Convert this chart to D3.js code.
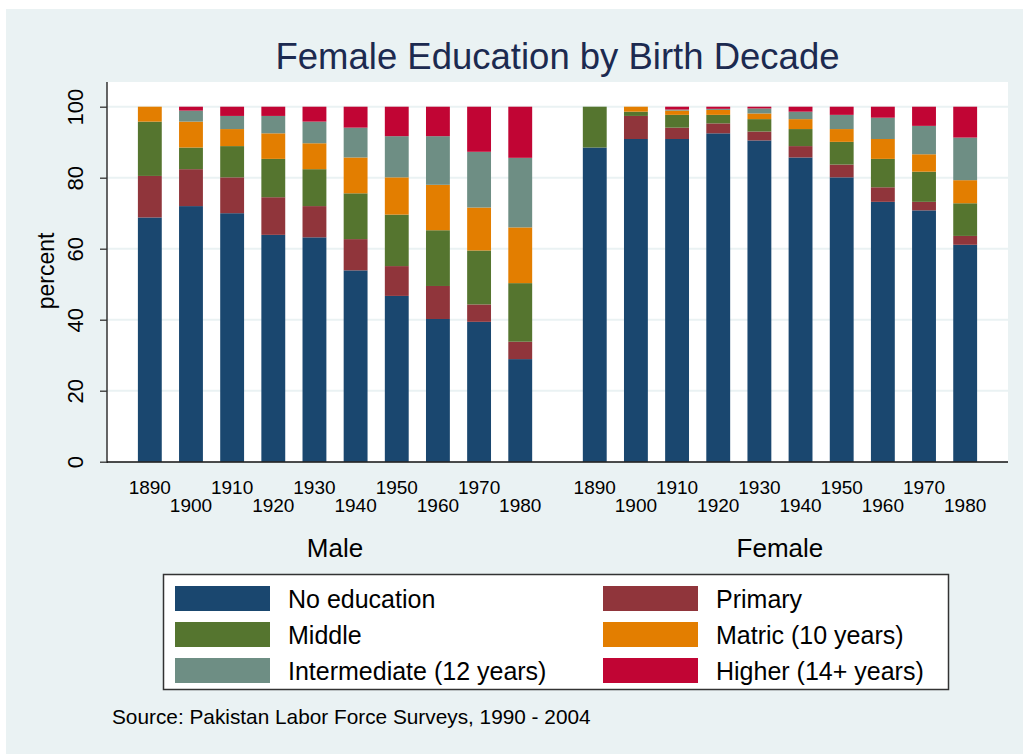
<!DOCTYPE html>
<html>
<head>
<meta charset="utf-8">
<script src="https://cdn.jsdelivr.net/npm/d3@7"></script>
<style>
  body { margin: 0; background: #ffffff; }
  text { font-family: "Liberation Sans", Arial, sans-serif; }
</style>
</head>
<body>
<div id="chart"></div>
<script>
// birth decades and education levels
let decades = ["1890", "1900", "1910", "1920", "1930", "1940", "1950", "1960", "1970", "1980"];
let levels = ["No education", "Primary", "Middle", "Matric (10 years)", "Intermediate (12 years)", "Higher (14+ years)"];
let sexes = ["Male", "Female"];
let yTicks = [0, 20, 40, 60, 80, 100];

// percent by decade, male
let maleNoEducation = [68.8, 72.0, 70.0, 63.9, 63.2, 53.9, 46.7, 40.2, 39.4, 28.9];
let malePrimary     = [11.7, 10.4, 10.1, 10.6,  8.8,  8.8,  8.4,  9.3,  4.9,  4.9];
let maleMiddle      = [15.3,  6.1,  8.8, 10.8, 10.4, 12.9, 14.5, 15.7, 15.2, 16.5];
let maleMatric      = [ 4.2,  7.3,  4.8,  7.2,  7.3, 10.1, 10.5, 12.8, 12.1, 15.7];
let maleInter       = [ 0.0,  3.1,  3.7,  4.9,  6.1,  8.4, 11.6, 13.7, 15.7, 19.6];
let maleHigher      = [ 0.0,  1.1,  2.6,  2.6,  4.2,  5.9,  8.3,  8.3, 12.7, 14.4];

// percent by decade, female
let femaleNoEducation = [88.5, 90.9, 90.9, 92.5, 90.5, 85.7, 80.1, 73.2, 70.8, 61.1];
let femalePrimary     = [ 0.0,  6.5,  3.2,  2.8,  2.5,  3.2,  3.6,  4.1,  2.4,  2.5];
let femaleMiddle      = [11.5,  1.2,  3.6,  2.4,  3.5,  4.8,  6.4,  8.0,  8.5,  9.2];
let femaleMatric      = [ 0.0,  1.4,  1.2,  1.4,  1.6,  2.8,  3.6,  5.6,  4.9,  6.5];
let femaleInter       = [ 0.0,  0.0,  0.3,  0.3,  1.4,  2.1,  4.0,  6.0,  8.0, 12.0];
let femaleHigher      = [ 0.0,  0.0,  0.8,  0.6,  0.5,  1.4,  2.3,  3.1,  5.4,  8.7];

let colors = ["#1a476f", "#90353b", "#55752f", "#e37e00", "#6e8e84", "#c10534"];

let bySex = {
  "Male": [maleNoEducation, malePrimary, maleMiddle, maleMatric, maleInter, maleHigher],
  "Female": [femaleNoEducation, femalePrimary, femaleMiddle, femaleMatric, femaleInter, femaleHigher]
};

// build rows for d3.stack
let rows = [];
sexes.forEach(function(s) {
  decades.forEach(function(d, i) {
    let r = { sex: s, decade: d };
    levels.forEach(function(l, j) { r[l] = bySex[s][j][i]; });
    rows.push(r);
  });
});

let config = { svg: {}, plot: {} };
config.svg.width = 1023;
config.svg.height = 754;
config.plot.left = 107;
config.plot.right = 1008;
config.plot.top = 82;
config.plot.bottom = 462;

function translate(x, y) {
  return "translate(" + x + "," + y + ")";
}

let svg = d3.select("#chart").append("svg")
  .attr("width", config.svg.width)
  .attr("height", config.svg.height);

// light background of graph region
svg.append("rect")
  .attr("x", 6).attr("y", 9)
  .attr("width", config.svg.width - 6).attr("height", config.svg.height - 9)
  .attr("fill", "#eaf2f3");

// plot region
svg.append("rect")
  .attr("x", config.plot.left).attr("y", config.plot.top)
  .attr("width", config.plot.right - config.plot.left)
  .attr("height", config.plot.bottom - config.plot.top)
  .attr("fill", "#ffffff");

let y = d3.scaleLinear().domain([0, 100]).range([461.7, 106.7]);

let xOuter = d3.scaleBand()
  .domain(sexes)
  .range([config.plot.left, config.plot.right])
  .paddingInner(0.075)
  .paddingOuter(0.05);

let xInner = d3.scaleBand()
  .domain(decades)
  .range([0, xOuter.bandwidth()])
  .paddingInner(0.42)
  .paddingOuter(0.21);

function barX(d) { return xOuter(d.sex) + xInner(d.decade); }

// gridlines
svg.append("g")
  .selectAll("line")
  .data(yTicks.filter(function(t) { return t > 0; }))
  .enter().append("line")
  .attr("x1", config.plot.left).attr("x2", config.plot.right)
  .attr("y1", function(d) { return y(d); })
  .attr("y2", function(d) { return y(d); })
  .attr("stroke", "#eaf2f3")
  .attr("stroke-width", 2);

let stack = d3.stack().keys(levels);
let series = stack(rows);

svg.append("g")
  .selectAll("g")
  .data(series)
  .enter().append("g")
  .attr("fill", function(d, i) { return colors[i]; })
  .selectAll("rect")
  .data(function(d) { return d; })
  .enter().append("rect")
  .attr("x", function(d) { return barX(d.data); })
  .attr("width", xInner.bandwidth())
  .attr("y", function(d) { return y(d[1]); })
  .attr("height", function(d) { return Math.max(0, y(d[0]) - y(d[1])); });

// y axis
let yAxis = svg.append("g")
  .attr("transform", translate(config.plot.left, 0))
  .call(d3.axisLeft(y).tickValues(yTicks).tickSize(7).tickPadding(0).tickFormat(d3.format("d")));
yAxis.select(".domain")
  .attr("d", "M0," + config.plot.top + "V" + (config.plot.bottom + 1))
  .attr("stroke", "#333333").attr("stroke-width", 1.5);
yAxis.selectAll(".tick line").attr("stroke", "#333333").attr("stroke-width", 1.3);
yAxis.selectAll(".tick text")
  .attr("x", 0).attr("dy", 0)
  .attr("transform", "translate(-32,0) rotate(-90)")
  .attr("text-anchor", "middle")
  .attr("dominant-baseline", "central")
  .style("font-size", "22px")
  .attr("fill", "#000000");

// x axis line
svg.append("line")
  .attr("x1", config.plot.left).attr("x2", config.plot.right)
  .attr("y1", config.plot.bottom).attr("y2", config.plot.bottom)
  .attr("stroke", "#111111").attr("stroke-width", 1.5);

// decade labels, staggered in two rows
svg.append("g")
  .selectAll("text")
  .data(rows)
  .enter().append("text")
  .attr("x", function(d) { return barX(d) + xInner.bandwidth() / 2; })
  .attr("y", function(d) { return decades.indexOf(d.decade) % 2 === 0 ? 494 : 512; })
  .attr("text-anchor", "middle")
  .style("font-size", "19px")
  .attr("fill", "#000000")
  .text(function(d) { return d.decade; });

// group labels
svg.append("g")
  .selectAll("text")
  .data(sexes)
  .enter().append("text")
  .attr("x", function(d) { return xOuter(d) + xOuter.bandwidth() / 2; })
  .attr("y", 557)
  .attr("text-anchor", "middle")
  .style("font-size", "26px")
  .attr("fill", "#000000")
  .text(function(d) { return d; });

// y axis title
svg.append("text")
  .attr("transform", "translate(54,271) rotate(-90)")
  .attr("text-anchor", "middle")
  .style("font-size", "23px")
  .attr("fill", "#000000")
  .text("percent");

// title
svg.append("text")
  .attr("x", (config.plot.left + config.plot.right) / 2)
  .attr("y", 69)
  .attr("text-anchor", "middle")
  .style("font-size", "36.5px")
  .attr("fill", "#1c2a50")
  .text("Female Education by Birth Decade");

// legend
let legend = svg.append("g");
legend.append("rect")
  .attr("x", 163.5).attr("y", 574.5)
  .attr("width", 785).attr("height", 115)
  .attr("fill", "#ffffff")
  .attr("stroke", "#333333").attr("stroke-width", 1.5);

let legendItems = legend.selectAll("g.item")
  .data(levels)
  .enter().append("g")
  .attr("class", "item")
  .attr("transform", function(d, i) {
    let col = i % 2, row = Math.floor(i / 2);
    return translate(175 + col * 428, 586 + row * 36);
  });
legendItems.append("rect")
  .attr("width", 95).attr("height", 25)
  .attr("fill", function(d, i) { return colors[i]; });
legendItems.append("text")
  .attr("x", 113).attr("y", 13)
  .attr("dominant-baseline", "central")
  .style("font-size", "25px")
  .attr("fill", "#000000")
  .text(function(d) { return d; });

// note
svg.append("text")
  .attr("x", 112).attr("y", 724)
  .style("font-size", "20.8px")
  .attr("fill", "#000000")
  .text("Source: Pakistan Labor Force Surveys, 1990 - 2004");
</script>
</body>
</html>
